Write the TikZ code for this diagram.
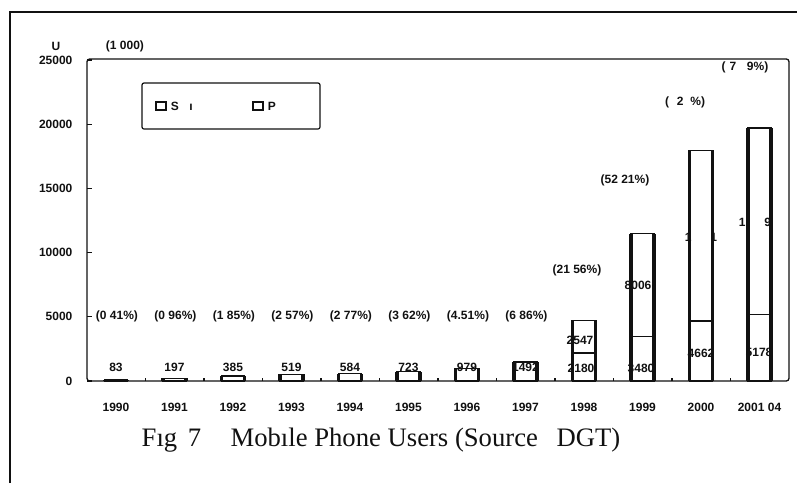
\documentclass[tikz,border=0pt]{standalone}
\usepackage{fontspec}
\setmainfont{Liberation Serif}
\setsansfont{Liberation Sans}
\usepackage{tikz}
\usetikzlibrary{positioning}
\definecolor{scanblack}{HTML}{111111}

\begin{document}
\begin{tikzpicture}[x=0.75pt, y=-0.75pt,
    axislabel/.style={font=\sffamily\bfseries\fontsize{9}{10}\selectfont, text=scanblack, inner sep=1pt},
    pct/.style={axislabel},
    barval/.style={axislabel, inner sep=0.5pt},
    barside/.style={line width=2.8pt, draw=scanblack},
    bartop/.style={line width=1pt, draw=scanblack},
    legkey/.style={draw=scanblack, line width=1.3pt, minimum width=7pt, minimum height=6pt, inner sep=0pt},
]
\useasboundingbox (0,0) rectangle (797,483);

% Outer frame
\draw[line width=1.2pt, scanblack] (10,483) -- (10,12) -- (797,12);

% Plot area
\draw[line width=1pt, scanblack, rounded corners=2pt] (87,59) rectangle (789,381);
\node[axislabel] (unit) at (56,46) {U};
\node[axislabel] (scale) at (125,46) {(1 000)};

% Y axis
\foreach \v/\lab in {0/0, 5/5000, 10/10000, 15/15000, 20/20000, 25/25000} {
    \draw[scanblack, line width=0.8pt] (87,{381-12.84*\v}) -- ++(5,0);
    \node[axislabel, anchor=east] (y\v) at (74,{381-12.84*\v}) {\lab};
}

% X axis
\foreach \k in {1,...,11}
    \draw[scanblack, line width=0.8pt] ({87+58.5*\k},381) -- ++(0,-3);
\foreach \yr [count=\i from 0] in {1990,1991,1992,1993,1994,1995,1996,1997,1998,1999,2000,2001 04}
    \node[axislabel] (x\i) at ({116+58.5*\i},407) {\yr};

% Bars (thousands): lower part / upper part
\foreach \s/\p [count=\i from 0] in {0.083/0, 0.197/0, 0.385/0, 0.519/0, 0.584/0, 0.723/0, 0.979/0, 1.492/0,
    2.180/2.547, 3.480/8.006, 4.662/13.311, 5.178/14.519} {
    \pgfmathsetmacro\cx{116+58.5*\i}
    \pgfmathsetmacro\ys{381-12.84*\s}
    \pgfmathsetmacro\yt{381-12.84*(\s+\p)}
    \draw[bartop] (\cx-11.5,\yt) rectangle (\cx+11.5,381);
    \draw[bartop] (\cx-11.5,\ys) -- (\cx+11.5,\ys);
    \draw[barside] (\cx-11.5,381) -- (\cx-11.5,\yt);
    \draw[barside] (\cx+11.5,381) -- (\cx+11.5,\yt);
}

% Values
\foreach \val [count=\i from 0] in {83,197,385,519,584,723,979,1492}
    \node[axislabel] (v\i) at ({116+58.5*\i},367) {\val};
\node[barval] (s98) at (581,368) {2180};
\node[barval] (p98) at (580,340) {2547};
\node[barval] (s99) at (641,368) {3480};
\node[barval] (p99) at (638,285) {8006};
\node[barval] (s00) at (701,353) {4662};
\node[axislabel] (p00) at (701,237) {1\hspace{14pt}1};
\node[barval] (s01) at (759,352) {5178};
\node[axislabel] (p01) at (755,222) {1\hspace{14pt}9};

% Growth rates
\foreach \r [count=\i from 0] in {(0 41\%),(0 96\%),(1 85\%),(2 57\%),(2 77\%),(3 62\%),(4.51\%),(6 86\%)}
    \node[pct] (r\i) at ({117+58.5*\i},316) {\r};
\node[pct] (r8) at (577,270) {(21 56\%)};
\node[pct] (r9) at (625,180) {(52 21\%)};
\node[pct] (r10) at (685,102) {(\hspace{6pt}2\hspace{5pt}\%)};
\node[pct] (r11) at (745,67) {(\hspace{3pt}7\hspace{8pt}9\%)};

% Legend
\draw[line width=0.9pt, scanblack, rounded corners=1.5pt] (142,83) rectangle (320,129);
\node[legkey] (keyS) at (161,106) {};
\node[axislabel, right=2pt of keyS] (legS) {S\hspace{8pt}ı};
\node[legkey] (keyP) at (258,106) {};
\node[axislabel, right=2pt of keyP] (legP) {P};

% Caption
\node[font=\fontsize{20}{22}\selectfont, text=scanblack] (caption) at (381,440)
    {Fıg\hspace{0.4em}7\hspace{1.1em}Mobıle Phone Users (Source\hspace{0.7em}DGT)};

\end{tikzpicture}
\end{document}
